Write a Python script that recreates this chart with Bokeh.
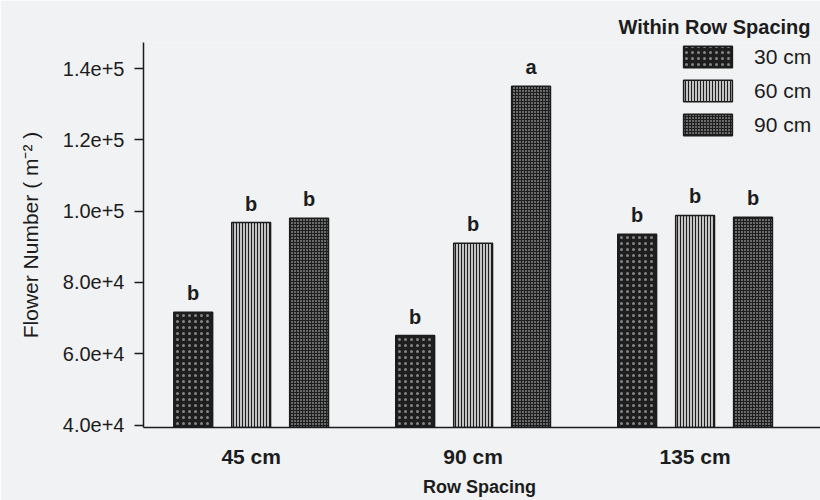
from bokeh.plotting import figure
from bokeh.models import Range1d, FixedTicker, Legend, LegendItem, ColumnDataSource
from bokeh.embed import file_html
from bokeh.resources import INLINE
from bokeh.core.properties import value

# ---- data ----
row_spacing = ["45 cm", "90 cm", "135 cm"]
within_row = ["30 cm", "60 cm", "90 cm"]
flowers_30 = [71600, 65100, 93500]
flowers_60 = [96800, 91000, 98800]
flowers_90 = [98000, 135000, 98300]
letters_30 = ["b", "b", "b"]
letters_60 = ["b", "b", "b"]
letters_90 = ["b", "a", "b"]
y_ticks = [40000, 60000, 80000, 100000, 120000, 140000]
y_tick_labels = ["4.0e+4", "6.0e+4", "8.0e+4", "1.0e+5", "1.2e+5", "1.4e+5"]

FONT = "Liberation Sans"
INK = "#1c1c1c"
BG = "#f0f2f3"
Y0, Y1 = 39300, 147300
OFFSET = 0.261
BAR_W = 0.175

p = figure(width=820, height=500,
           x_range=Range1d(-0.485, 2.565), y_range=Range1d(Y0, Y1),
           output_backend="svg", toolbar_location=None,
           min_border_left=143, min_border_right=0,
           min_border_top=42, min_border_bottom=73)
p.background_fill_color = BG
p.border_fill_color = BG
p.outline_line_color = None
p.xgrid.visible = False
p.ygrid.visible = False

# title acts as legend heading
p.title.text = "Within Row Spacing"
p.title.align = "right"
p.title.text_font = FONT
p.title.text_font_size = "20px"
p.title.text_font_style = "bold"
p.title.text_color = INK
p.title.offset = 10
p.title.standoff = 9

styles = [
    dict(fill_color="#1e1e1e", hatch_pattern="dot", hatch_color="#d8d8d8", hatch_scale=6, hatch_weight=1, hatch_alpha=0.55),
    dict(fill_color="#c4c4c4", hatch_pattern="vertical_line", hatch_color="#1e1e1e", hatch_scale=3, hatch_weight=1),
    dict(fill_color="#6a6a6a", hatch_pattern="cross", hatch_color="#1e1e1e", hatch_scale=3, hatch_weight=1),
]
series = [flowers_30, flowers_60, flowers_90]
letters = [letters_30, letters_60, letters_90]

items = []
for k, (vals, lets, st) in enumerate(zip(series, letters, styles)):
    xs = [g + (k - 1) * OFFSET for g in range(len(row_spacing))]
    src = ColumnDataSource(dict(x=xs, top=vals, lab=lets))
    r = p.vbar(x="x", top="top", bottom=Y0, width=BAR_W, source=src,
               line_color=INK, line_width=1.5, **st)
    p.text(x="x", y="top", text="lab", source=src, y_offset=-8,
           text_align="center", text_baseline="bottom",
           text_font=value(FONT), text_font_style="bold",
           text_font_size="20px", text_color=INK)
    items.append(LegendItem(label=within_row[k], renderers=[r]))

legend = Legend(items=items, location=(534, 289), orientation="vertical")
legend.margin = 0
legend.padding = 0
legend.spacing = 7
legend.glyph_width = 61
legend.glyph_height = 27
legend.label_standoff = 16
legend.label_text_font = FONT
legend.label_text_font_size = "21px"
legend.label_text_color = INK
legend.background_fill_alpha = 0
legend.border_line_color = None
p.add_layout(legend)

# y axis
ya = p.yaxis[0]
ya.ticker = FixedTicker(ticks=y_ticks)
ya.major_label_overrides = {t: l for t, l in zip(y_ticks, y_tick_labels)}
ya.major_tick_out = 9
ya.major_tick_in = 0
ya.minor_tick_out = 0
ya.minor_tick_in = 0
ya.major_label_standoff = 10
ya.major_label_text_font = FONT
ya.major_label_text_font_size = "20px"
ya.major_label_text_color = INK
ya.axis_label = "Flower Number ( m\u207b\u00b2 )"
ya.axis_label_text_font = FONT
ya.axis_label_text_font_size = "21px"
ya.axis_label_text_font_style = "normal"
ya.axis_label_text_color = INK
ya.axis_label_standoff = 18
ya.axis_line_color = INK
ya.axis_line_width = 1.5
ya.major_tick_line_color = INK
ya.major_tick_line_width = 1.5

# x axis
xa = p.xaxis[0]
xa.ticker = FixedTicker(ticks=list(range(len(row_spacing))))
xa.major_label_overrides = {i: s for i, s in enumerate(row_spacing)}
xa.major_tick_line_color = None
xa.minor_tick_line_color = None
xa.major_label_standoff = 11
xa.major_label_text_font = FONT
xa.major_label_text_font_size = "21px"
xa.major_label_text_font_style = "bold"
xa.major_label_text_color = INK
xa.axis_label = "Row  Spacing"
xa.axis_label_text_font = FONT
xa.axis_label_text_font_size = "18px"
xa.axis_label_text_font_style = "bold"
xa.axis_label_text_color = INK
xa.axis_label_standoff = 6
xa.axis_line_color = INK
xa.axis_line_width = 1.5

open("out.html", "w").write(file_html(p, INLINE))
